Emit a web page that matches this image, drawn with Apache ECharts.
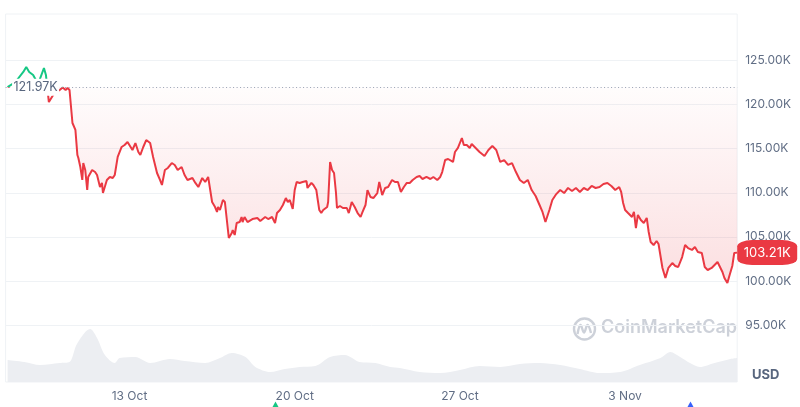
<!DOCTYPE html>
<html>
<head>
<meta charset="utf-8">
<script src="https://cdn.jsdelivr.net/npm/echarts@6/dist/echarts.min.js"></script>
<style>html,body{margin:0;padding:0;background:#fff;}#c{width:800px;height:407px;}</style>
</head>
<body>
<div id="c"></div>
<script>
// ---- data (price in thousands USD) ----
const priceTimes = ['10-07 20','10-08 04','10-08 12','10-08 15','10-08 18','10-08 20','10-08 22','10-09 03','10-09 09','10-09 11','10-09 14','10-09 19','10-10 01','10-10 04','10-10 07','10-10 09','10-10 11','10-10 14','10-10 17','10-10 19','10-10 20','10-10 22','10-11 00','10-11 01','10-11 03','10-11 05','10-11 06','10-11 10','10-11 13','10-11 15','10-11 18','10-11 20','10-11 21','10-12 01','10-12 04','10-12 07','10-12 09','10-12 12','10-12 16','10-12 19','10-12 22','10-13 03','10-13 06','10-13 09','10-13 11','10-13 14','10-13 17','10-13 21','10-14 00','10-14 04','10-14 07','10-14 09','10-14 12','10-14 15','10-14 19','10-14 22','10-15 01','10-15 05','10-15 08','10-15 11','10-15 16','10-15 19','10-15 22','10-16 02','10-16 05','10-16 08',
'10-16 10','10-16 12','10-16 15','10-16 17','10-16 18','10-16 20','10-16 23','10-17 01','10-17 03','10-17 05','10-17 08','10-17 09','10-17 11','10-17 13','10-17 16','10-17 18','10-17 19','10-17 21','10-18 00','10-18 05','10-18 10','10-18 13','10-18 18','10-18 21','10-19 01','10-19 04','10-19 06','10-19 09','10-19 12','10-19 15','10-19 17','10-19 19','10-19 22','10-20 00','10-20 02','10-20 05','10-20 08','10-20 10','10-20 12','10-20 13','10-20 17','10-20 19','10-20 22','10-20 23','10-21 01','10-21 03','10-21 05','10-21 07','10-21 09','10-21 10','10-21 12','10-21 14','10-21 16','10-21 18','10-21 19','10-21 22','10-22 01','10-22 05','10-22 07','10-22 10','10-22 13','10-22 16','10-22 19','10-22 21','10-23 00','10-23 02','10-23 05','10-23 08','10-23 12','10-23 14','10-23 17','10-23 20','10-23 23','10-24 03','10-24 06','10-24 09','10-24 12','10-24 15','10-24 18','10-24 21','10-25 00','10-25 04','10-25 07','10-25 10','10-25 14','10-25 18','10-25 21','10-26 01','10-26 04','10-26 06','10-26 09','10-26 12','10-26 17','10-26 19','10-26 22','10-27 02','10-27 04','10-27 07','10-27 10',
'10-27 12','10-27 16','10-27 20','10-28 01','10-28 05','10-28 09','10-28 13','10-28 17','10-28 21','10-29 01','10-29 05','10-29 09','10-29 13','10-29 17','10-29 21','10-30 01','10-30 05','10-30 09','10-30 12','10-30 15','10-30 19','10-30 22','10-31 02','10-31 06','10-31 10','10-31 14','10-31 18','10-31 22','11-01 02','11-01 06','11-01 10','11-01 14','11-01 18','11-01 22','11-02 02','11-02 06','11-02 10','11-02 14','11-02 18','11-02 20','11-02 22','11-03 00','11-03 03','11-03 07','11-03 09','11-03 11','11-03 13','11-03 16','11-03 19','11-03 22','11-04 00','11-04 02','11-04 05','11-04 08','11-04 10','11-04 14','11-04 17','11-04 20','11-05 00','11-05 03','11-05 06','11-05 10','11-05 13','11-05 16','11-05 20','11-05 23','11-06 02','11-06 06','11-06 09','11-06 12','11-06 16','11-06 19','11-06 22','11-07 03','11-07 05','11-07 08','11-07 10','11-07 13','11-07 15','11-07 18'];
const priceValues = [121.97,122.56,123.70,124.26,123.70,123.92,123.36,122.33,124.15,123.36,120.29,121.20,121.65,121.93,121.65,121.88,121.65,117.91,117.12,114.28,113.94,112.92,111.45,113.37,112.58,110.31,111.79,112.58,112.35,112.01,110.65,111.11,109.97,111.45,111.79,111.67,112.01,114.06,115.19,115.42,115.76,114.85,115.64,114.62,114.28,115.19,115.98,115.64,114.06,112.24,111.45,110.88,112.58,112.81,113.37,113.15,112.58,112.92,112.01,111.45,111.67,111.11,110.65,111.67,111.22,111.79,
111.67,108.95,108.38,107.82,108.38,108.04,109.18,108.95,106.91,104.87,105.43,105.77,105.21,106.57,106.68,107.25,106.68,107.25,106.68,107.02,107.14,106.80,107.25,107.02,107.25,106.57,107.70,108.04,108.61,109.40,108.95,109.18,108.16,110.31,111.22,111.11,111.22,111.11,111.33,110.54,111.11,110.88,110.31,109.52,108.04,107.70,108.04,107.82,108.38,108.95,113.49,112.58,112.24,109.97,108.27,108.50,108.27,108.27,107.70,108.95,108.38,107.70,107.25,107.82,108.61,110.31,109.52,109.40,109.97,111.22,109.74,110.54,110.65,111.45,111.22,111.22,110.09,110.65,111.11,111.11,111.45,111.79,111.90,111.56,111.79,111.56,111.79,111.45,111.79,112.35,113.71,113.83,113.49,114.62,115.08,116.21,115.42,115.42,115.08,
115.53,115.08,114.62,114.17,114.85,115.30,114.85,113.49,113.71,113.15,113.37,112.35,111.45,111.11,111.45,110.31,109.63,108.61,107.82,106.68,108.04,109.17,109.85,110.31,109.97,110.54,110.20,110.54,110.09,110.54,110.31,110.77,110.54,110.65,110.99,111.11,110.77,110.31,110.65,110.09,108.84,108.04,107.70,107.25,107.82,106.00,107.48,106.91,106.57,107.14,105.55,104.41,104.07,104.53,104.19,101.47,100.33,101.47,102.03,101.69,101.58,102.71,104.07,103.73,103.51,103.85,103.28,103.17,101.58,101.24,101.47,101.81,102.15,101.01,100.33,99.76,100.56,101.69,103.17,103.21];
const volumeTimes = ['10-07 20','10-08 13','10-09 05','10-10 01','10-10 11','10-10 18','10-11 03','10-11 08','10-11 15','10-11 23','10-12 09','10-12 14','10-13 06','10-13 21','10-14 17','10-15 08','10-16 05','10-16 20','10-17 08','10-17 22','10-18 08','10-18 23','10-19 14','10-20 05','10-20 21','10-21 12','10-22 03','10-22 18','10-23 10','10-24 01','10-24 11','10-25 07','10-26 04','10-27 00','10-27 20','10-28 17','10-29 13','10-30 09','10-31 06','11-01 02','11-01 22','11-02 19','11-03 15','11-04 12','11-04 22','11-05 08','11-05 18','11-06 04','11-06 19','11-07 11','11-07 18'];
const volumeValues = [22,20,17,19,20,37,50,53,44,27,19,24,25,19,23,21,19,24,29,25,15,10,13,15,16,25,27,20,19,15,14,10,9,12,16,15,18,19,17,13,9,10,17,24,30,25,19,15,19,23,24];
const baselineValue = 121.97;
const yTickMin = 90, yTickMax = 130, yTickStep = 5;
const xTickTimes = ['10-13 00','10-20 00','10-27 00','11-03 00'];
const xTickLabels = ['13 Oct','20 Oct','27 Oct','3 Nov'];
const axisRange = ['10-07 18','11-07 18'];

function t(s){ const p = s.split(' '); const md = p[0].split('-').map(Number); return new Date(2025, md[0]-1, md[1], +p[1]).getTime(); }
const fmtK = v => v.toFixed(2) + 'K';

const priceData = priceTimes.map((s,i)=>[t(s), priceValues[i]]);
const volumeData = volumeTimes.map((s,i)=>[t(s), volumeValues[i]]);
const lastIdx = priceValues.length - 1;
const tickTs = xTickTimes.map(t);

const chart = echarts.init(document.getElementById('c'), null, {renderer:'canvas'});
const GRID_L = 5.6, GRID_R = 62.8;
const gridLineColors = [];
for (let v = yTickMin; v <= yTickMax; v += yTickStep) gridLineColors.push((v===yTickMin||v===yTickMax)?'rgba(0,0,0,0)':'#eff2f5');

function labelFor(v){ let best=0; tickTs.forEach((tt,j)=>{ if (Math.abs(tt-v)<Math.abs(tickTs[best]-v)) best=j;}); return xTickLabels[best]; }

chart.setOption({
  animation:false,
  backgroundColor:'#fff',
  textStyle:{fontFamily:'Inter, "Noto Sans", sans-serif'},
  grid:[
    {left:GRID_L, right:GRID_R, top:16.4, bottom:37.9},
    {left:GRID_L, right:GRID_R, top:14, bottom:25, show:true, borderColor:'#eff2f5', borderWidth:1}
  ],
  xAxis:[
    {type:'value', gridIndex:0, min:t(axisRange[0]), max:t(axisRange[1]), show:false},
    {type:'value', gridIndex:1, min:t(axisRange[0]), max:t(axisRange[1]),
     axisLine:{show:false}, axisTick:{show:false}, splitLine:{show:false},
     axisLabel:{customValues:tickTs, margin:8, color:'#616e85', fontSize:12, formatter:labelFor}}
  ],
  yAxis:[
    {type:'value', gridIndex:0, position:'right', min:yTickMin, max:yTickMax, interval:yTickStep,
     axisLine:{show:false}, axisTick:{show:false},
     splitLine:{show:true, lineStyle:{color:gridLineColors, width:1}},
     axisLabel:{margin:8, color:'#616e85', fontSize:12, showMinLabel:false, showMaxLabel:false, formatter:fmtK}},
    {type:'value', gridIndex:1, min:0, max:368, show:false, splitLine:{show:false}}
  ],
  visualMap:[{type:'piecewise', show:false, seriesIndex:0, dimension:1,
    pieces:[{gt:baselineValue, lte:yTickMax, color:'#16c784'},{gte:yTickMin, lte:baselineValue, color:'#ea3943'}],
    outOfRange:{color:'#ea3943'}}],
  series:[
    {type:'line', xAxisIndex:0, yAxisIndex:0, data:priceData, showSymbol:false, symbol:'none', z:3,
     lineStyle:{width:2},
     areaStyle:{origin:baselineValue, color:new echarts.graphic.LinearGradient(0,88,0,290,[
        {offset:0,color:'rgba(234,57,67,0.02)'},{offset:1,color:'rgba(234,57,67,0.24)'}], true)},
     markLine:{silent:true, symbol:['none','none'], label:{show:false},
       lineStyle:{color:'#98a1b3', type:[1,2.5], width:1},
       emphasis:{disabled:true},
       data:[{yAxis:baselineValue}]}},
    {type:'line', xAxisIndex:1, yAxisIndex:1, data:volumeData, showSymbol:false, symbol:'none', smooth:0.3,
     lineStyle:{width:0}, itemStyle:{color:'#eceef2'}, areaStyle:{color:'#eceef2', opacity:1}, z:1},
    {type:'scatter', xAxisIndex:0, yAxisIndex:0, clip:false, silent:true, z:10,
     data:[[t(priceTimes[0]), baselineValue]],
     symbol:'rect', symbolSize:[47,17], symbolOffset:[28,0], itemStyle:{color:'#fff', opacity:1},
     label:{show:true, position:'inside', color:'#58667e', fontSize:12.5, formatter:p=>fmtK(p.value[1])}},
    {type:'scatter', xAxisIndex:0, yAxisIndex:0, clip:false, silent:true, z:10,
     data:[[t(priceTimes[lastIdx]), priceValues[lastIdx]]],
     symbol:'roundRect', symbolSize:[60,25], symbolOffset:[30,0], itemStyle:{color:'#ea3943', opacity:1},
     label:{show:true, position:'inside', color:'#fff', fontSize:13, formatter:p=>fmtK(p.value[1])}}
  ],
  graphic:[
    {type:'text', left:752, top:369, style:{text:'USD', fill:'#58667e', font:'bold 13px Inter, sans-serif'}},
    {type:'circle', shape:{cx:584.5, cy:329, r:10.5}, style:{fill:'none', stroke:'#cdd1d9', lineWidth:2.4}, z:0},
    {type:'polyline', shape:{points:[[577.5,334],[580.5,325],[584,332.5],[587.5,325],[591,333]], smooth:0.4}, style:{fill:'none', stroke:'#cdd1d9', lineWidth:2.4}, z:0},
    {type:'text', left:601, top:319, style:{text:'CoinMarketCap', fill:'#cdd1d9', font:'600 18px Inter, sans-serif'}, z:0},
    {type:'polygon', shape:{points:[[272.5,407],[275.5,401.5],[278.5,407]]}, style:{fill:'#16c784'}},
    {type:'polygon', shape:{points:[[687.5,407],[690.5,401.5],[693.5,407]]}, style:{fill:'#3861fb'}}
  ]
});
</script>
</body>
</html>
